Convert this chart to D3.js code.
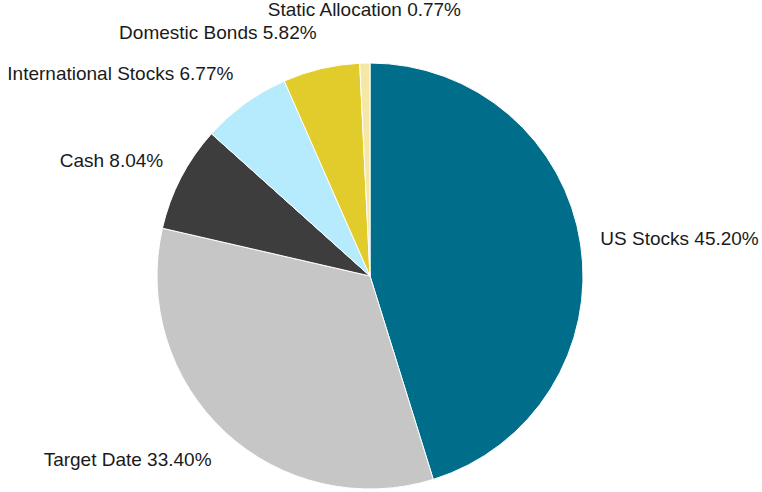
<!DOCTYPE html>
<html>
<head>
<meta charset="utf-8">
<script src="https://cdn.jsdelivr.net/npm/d3@7/dist/d3.min.js"></script>
<style>
  html, body { margin: 0; padding: 0; background: #ffffff; }
  svg { display: block; }
  text { font-family: "Liberation Sans", Arial, sans-serif; }
</style>
</head>
<body>
<script>
// Portfolio allocation by asset class (percent of total)
const categories = ["US Stocks", "Target Date", "Cash", "International Stocks", "Domestic Bonds", "Static Allocation"];
const shares = [45.20, 33.40, 8.04, 6.77, 5.82, 0.77];
const colors = ["#006e8a", "#c6c6c6", "#3d3d3d", "#b5ebfc", "#e2cc2b", "#f4e8a4"];

const width = 762, height = 492;
const cx = 370, cy = 276, radius = 213;
// labels sit on a slightly flattened ring just outside the rim
const labelDx = 20, labelDy = 37, fontSize = 19, lineGap = 23;

const data = categories.map((name, i) => ({ name, value: shares[i], color: colors[i] }));

const svg = d3.select("body").append("svg")
  .attr("width", width).attr("height", height);

const pie = d3.pie().value(d => d.value).sort(null);
const arcs = pie(data);
const arc = d3.arc().innerRadius(0).outerRadius(radius);

const g = svg.append("g").attr("transform", `translate(${cx},${cy})`);

g.selectAll("path.slice")
  .data(arcs)
  .join("path")
  .attr("class", "slice")
  .attr("d", arc)
  .attr("fill", d => d.data.color)
  .attr("stroke", "#ffffff")
  .attr("stroke-width", 1)
  .attr("stroke-linejoin", "round");

// Label anchor points outside the rim, on each slice's mid-angle
const labels = arcs.map(a => {
  const mid = (a.startAngle + a.endAngle) / 2;
  const s = Math.sin(mid), c = Math.cos(mid);
  return {
    text: `${a.data.name} ${a.data.value.toFixed(2)}%`,
    x: (radius + labelDx) * s,
    y: -(radius + labelDy) * c,
    anchor: Math.abs(s) < 0.1 ? "middle" : (s > 0 ? "start" : "end")
  };
});

const labelG = g.append("g");
const texts = labelG.selectAll("text")
  .data(labels)
  .join("text")
  .attr("font-size", fontSize)
  .attr("fill", "#1a1a1a")
  .attr("text-anchor", d => d.anchor)
  .attr("dominant-baseline", "central")
  .text(d => d.text);

// Measure widths, then push colliding labels upward
texts.each(function(d) { d.w = this.getComputedTextLength(); });
const span = d => d.anchor === "start" ? [d.x, d.x + d.w]
              : d.anchor === "end" ? [d.x - d.w, d.x] : [d.x - d.w / 2, d.x + d.w / 2];
const upper = labels.filter(d => d.y < 0).sort((a, b) => b.y - a.y);
for (let i = 1; i < upper.length; i++) {
  for (let j = 0; j < i; j++) {
    const a = span(upper[i]), b = span(upper[j]);
    const overlapX = a[0] < b[1] && b[0] < a[1];
    if (overlapX && upper[j].y - upper[i].y < lineGap) {
      upper[i].y = upper[j].y - lineGap;
    }
  }
}

texts.attr("x", d => d.x).attr("y", d => d.y);
</script>
</body>
</html>
